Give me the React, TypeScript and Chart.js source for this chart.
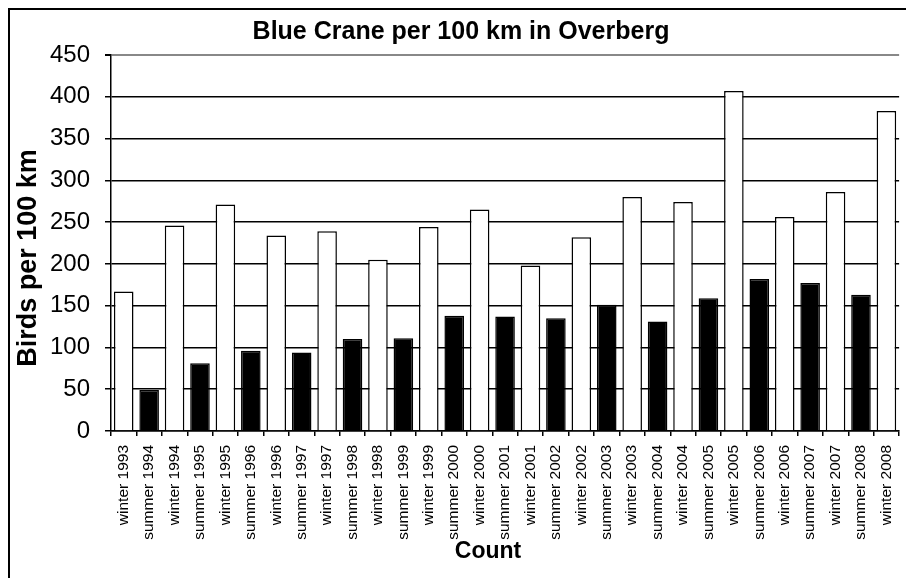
import React, { useEffect, useRef } from "react";
import { Chart, registerables } from "chart.js";

Chart.register(...registerables);

const categories = [
  "winter 1993", "summer 1994", "winter 1994", "summer 1995", "winter 1995",
  "summer 1996", "winter 1996", "summer 1997", "winter 1997", "summer 1998",
  "winter 1998", "summer 1999", "winter 1999", "summer 2000", "winter 2000",
  "summer 2001", "winter 2001", "summer 2002", "winter 2002", "summer 2003",
  "winter 2003", "summer 2004", "winter 2004", "summer 2005", "winter 2005",
  "summer 2006", "winter 2006", "summer 2007", "winter 2007", "summer 2008",
  "winter 2008",
];

const birdsPer100km = [
  167, 49, 246, 81, 271, 96, 234, 94, 239, 110, 205, 111, 244, 138, 265, 137,
  198, 135, 232, 151, 280, 131, 274, 159, 407, 182, 256, 177, 286, 163, 383,
];

const yTicks = [0, 50, 100, 150, 200, 250, 300, 350, 400, 450];

const chartTitle = "Blue Crane per 100 km in Overberg";
const yTitle = "Birds per 100 km";
const xTitle = "Count";

const FONT = "'Liberation Sans', Arial, sans-serif";

export default function App() {
  const ref = useRef<HTMLCanvasElement | null>(null);

  useEffect(() => {
    document.documentElement.style.overflow = "hidden";
    document.body.style.overflow = "hidden";
    const canvas = ref.current;
    if (!canvas) return;

    const decor = {
      id: "decor",
      beforeDraw(chart: any) {
        const { ctx, width, height } = chart;
        ctx.save();
        ctx.fillStyle = "#fff";
        ctx.fillRect(0, 0, width, height);
        ctx.strokeStyle = "#000";
        ctx.lineWidth = 2;
        ctx.beginPath();
        ctx.moveTo(1, height);
        ctx.lineTo(1, 1);
        ctx.lineTo(width, 1);
        ctx.stroke();
        ctx.restore();
      },
      afterDraw(chart: any) {
        const { ctx, chartArea } = chart;
        ctx.save();
        ctx.fillStyle = "#000";
        ctx.textAlign = "center";
        ctx.textBaseline = "middle";
        ctx.font = `bold 27px ${FONT}`;
        ctx.translate(chartArea.left - 82, (chartArea.top + chartArea.bottom) / 2 + 15);
        ctx.rotate(-Math.PI / 2);
        ctx.fillText(yTitle, 0, 0);
        ctx.restore();
        ctx.save();
        ctx.fillStyle = "#000";
        ctx.textAlign = "center";
        ctx.textBaseline = "middle";
        ctx.font = `bold 23px ${FONT}`;
        ctx.fillText(xTitle, (chartArea.left + chartArea.right) / 2 - 17, chartArea.bottom + 121);
        ctx.restore();
      },
    };

    const chart = new Chart(canvas, {
      type: "bar",
      data: {
        labels: categories,
        datasets: [
          {
            data: birdsPer100km,
            backgroundColor: categories.map((c) => (c.startsWith("summer") ? "#000" : "#fff")),
            borderColor: "#000",
            borderWidth: 1.5,
            barPercentage: 0.77,
            categoryPercentage: 1,
          },
        ],
      },
      options: {
        responsive: false,
        animation: false,
        layout: { padding: 0 },
        plugins: {
          legend: { display: false },
          tooltip: { enabled: false },
          title: {
            display: true,
            text: chartTitle,
            color: "#000",
            font: { family: FONT, size: 25, weight: "bold" },
            padding: { top: 9, bottom: 8 },
          },
        },
        scales: {
          x: {
            grid: {
              display: true,
              drawOnChartArea: false,
              drawTicks: true,
              tickLength: 5,
              color: "#000",
              lineWidth: 1.5,
            },
            border: { display: true, color: "#000", width: 1.5 },
            ticks: {
              autoSkip: false,
              maxRotation: 90,
              minRotation: 90,
              padding: 9,
              color: "#000",
              font: { family: FONT, size: 15.5 },
            },
            afterFit(scale: any) {
              scale.height = 147;
            },
          },
          y: {
            min: 0,
            max: 450,
            afterBuildTicks(scale: any) {
              scale.ticks = yTicks.map((v) => ({ value: v }));
            },
            grid: {
              color: (ctx: any) => (ctx.tick && ctx.tick.value === 450 ? "#888" : "#000"),
              lineWidth: (ctx: any) => (ctx.tick && ctx.tick.value === 450 ? 2 : 1.5),
              tickColor: "#000",
              tickLength: 6,
            },
            border: { display: true, color: "#000", width: 1.5 },
            ticks: {
              padding: 15,
              color: "#000",
              font: { family: FONT, size: 24 },
            },
            afterFit(scale: any) {
              scale.width = 103;
            },
          },
        },
      },
      plugins: [decor],
    });

    return () => chart.destroy();
  }, []);

  return <canvas ref={ref} width={906} height={570} style={{ display: "block" }} />;
}
